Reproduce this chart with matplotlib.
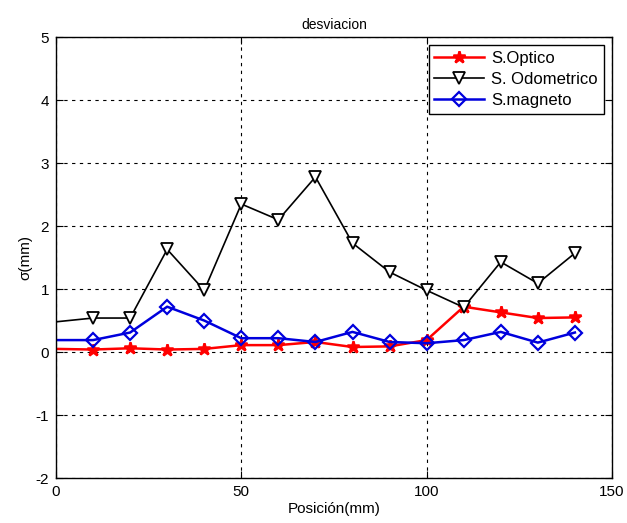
import matplotlib
matplotlib.use('Agg')
import matplotlib.pyplot as plt

plt.rcParams['font.family'] = ['Liberation Sans', 'DejaVu Sans']
plt.rcParams['axes.unicode_minus'] = False

# datos
posicion = [0, 10, 20, 30, 40, 50, 60, 70, 80, 90, 100, 110, 120, 130, 140]
s_optico = [0.05, 0.04, 0.06, 0.04, 0.05, 0.11, 0.11, 0.16, 0.08, 0.09, 0.19, 0.72, 0.63, 0.54, 0.55]
s_odometrico = [0.48, 0.54, 0.54, 1.63, 0.98, 2.35, 2.10, 2.78, 1.73, 1.27, 0.98, 0.71, 1.43, 1.09, 1.57]
s_magneto = [0.19, 0.19, 0.31, 0.72, 0.50, 0.22, 0.22, 0.16, 0.32, 0.16, 0.14, 0.19, 0.32, 0.15, 0.31]

fig = plt.figure(figsize=(6.27, 5.23), dpi=100)
ax = fig.add_axes([0.0893, 0.086, 0.8867, 0.843])

marcas = list(range(1, len(posicion)))
ax.plot(posicion, s_optico, color='red', lw=1.8, marker='*', ms=9, mew=1.8,
        markevery=marcas, label='S.Optico')
ax.plot(posicion, s_odometrico, color='black', lw=1.2, marker='v', ms=9, mfc='white', mew=1.3,
        markevery=marcas, label='S. Odometrico')
ax.plot(posicion, s_magneto, color='#0000dd', lw=1.8, marker='D', ms=7.5, mfc='none', mew=1.6,
        markevery=marcas, label='S.magneto')

ax.set_xlim(0, 150)
ax.set_ylim(-2, 5)
ax.set_xticks([0, 50, 100, 150])
ax.set_yticks(range(-2, 6))
ax.grid(True, color='black', linestyle=(0, (3, 4)), linewidth=0.8)
ax.tick_params(direction='in', labelsize=11, length=5, top=True, right=True, pad=5)
for s in ax.spines.values():
    s.set_linewidth(1.0)

ax.set_xlabel('Posición(mm)', fontsize=11, labelpad=2)
ax.set_ylabel('σ(mm)', fontsize=11, labelpad=2)
ax.set_title('desviacion', fontsize=10, pad=6)

leg = ax.legend(loc='upper right', fontsize=12, fancybox=False, framealpha=1,
                edgecolor='black', borderpad=0.35, handlelength=3.0, labelspacing=0.35,
                handletextpad=0.4, borderaxespad=0.5)
leg.get_frame().set_linewidth(1.0)

fig.savefig('out.png', dpi=100)
